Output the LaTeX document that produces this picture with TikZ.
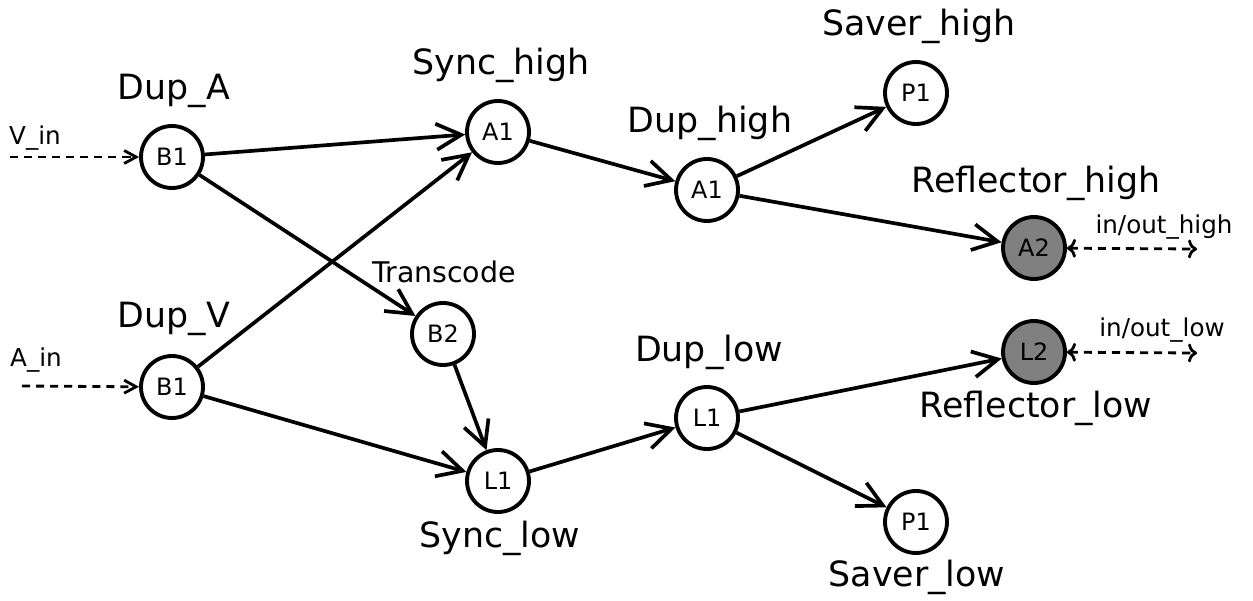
\documentclass[tikz,border=0pt]{standalone}
\usepackage{fontspec}
\setmainfont{DejaVu Sans}
\usetikzlibrary{arrows.meta}

\begin{document}
\begin{tikzpicture}[
    x=0.02cm, y=-0.02cm,
    proc/.style={circle, draw=black, line width=2.2pt, fill=white, minimum size=1.24cm, inner sep=0pt, font=\fontsize{13.6}{15}\selectfont},
    procDark/.style={proc, fill=black!50},
    link/.style={line width=2.1pt, -{Straight Barb[length=5mm, width=5.2mm]}},
    ioLink/.style={line width=1.6pt, dash pattern=on 4.6pt off 3.4pt, -{Straight Barb[length=2.4mm, width=2.6mm]}},
    bigLabel/.style={font=\fontsize{19.8}{22}\selectfont},
    midLabel/.style={font=\fontsize{16.2}{18}\selectfont},
    smallLabel/.style={font=\fontsize{14}{16}\selectfont}
  ]
  \useasboundingbox (0,0) rectangle (1253,601);

  % -------- входные дубликаторы --------
  \node[proc] (dupA) at (172,157) {B1};
  \node[proc] (dupV) at (172,387) {B1};
  \node[bigLabel] (dupALbl) at (174,91) {Dup\_A};
  \node[bigLabel] (dupVLbl) at (174,319) {Dup\_V};

  \coordinate (vIn) at (10,157);
  \coordinate (aIn) at (22,386);
  \node[smallLabel] (vInLbl) at (35,138) {V\_in};
  \node[smallLabel] (aInLbl) at (36,360) {A\_in};

  % -------- синхронизация и транскодер --------
  \node[proc] (syncHigh) at (498,132) {A1};
  \node[proc] (transcode) at (443,334) {B2};
  \node[proc] (syncLow) at (498,481) {L1};
  \node[bigLabel] (syncHighLbl) at (501,65) {Sync\_high};
  \node[midLabel] (transcodeLbl) at (444,272) {Transcode};
  \node[bigLabel] (syncLowLbl) at (500,538) {Sync\_low};

  % -------- выходные дубликаторы --------
  \node[proc] (dupHigh) at (707,190) {A1};
  \node[proc] (dupLow) at (707,418) {L1};
  \node[bigLabel] (dupHighLbl) at (710,123) {Dup\_high};
  \node[bigLabel] (dupLowLbl) at (709,352) {Dup\_low};

  % -------- сохранение и рефлекторы --------
  \node[proc] (saverHigh) at (916,93) {P1};
  \node[procDark] (reflHigh) at (1034,248) {A2};
  \node[procDark] (reflLow) at (1034,352) {L2};
  \node[proc] (saverLow) at (916,522) {P1};
  \node[bigLabel] (saverHighLbl) at (919,26) {Saver\_high};
  \node[bigLabel] (reflHighLbl) at (1036,183) {Reflector\_high};
  \node[bigLabel] (reflLowLbl) at (1036,408) {Reflector\_low};
  \node[bigLabel] (saverLowLbl) at (917,577) {Saver\_low};

  \coordinate (ioHigh) at (1197,249);
  \coordinate (ioLow) at (1197,353);
  \node[smallLabel] (ioHighLbl) at (1164,227) {in/out\_high};
  \node[smallLabel] (ioLowLbl) at (1162,330) {in/out\_low};

  % связи
  \draw[ioLink] (vIn) -- (dupA);
  \draw[ioLink] (aIn) -- (dupV);

  \draw[link] (dupA) -- (syncHigh);
  \draw[link] (dupA) -- (transcode);
  \draw[link] (dupV) -- (syncHigh);
  \draw[link] (dupV) -- (syncLow);
  \draw[link] (transcode) -- (syncLow);

  \draw[link] (syncHigh) -- (dupHigh);
  \draw[link] (syncLow) -- (dupLow);

  \draw[link] (dupHigh) -- (saverHigh);
  \draw[link] (dupHigh) -- (reflHigh);
  \draw[link] (dupLow) -- (reflLow);
  \draw[link] (dupLow) -- (saverLow);

  \draw[ioLink, <->] (reflHigh) -- (ioHigh);
  \draw[ioLink, <->] (reflLow) -- (ioLow);

\end{tikzpicture}
\end{document}
